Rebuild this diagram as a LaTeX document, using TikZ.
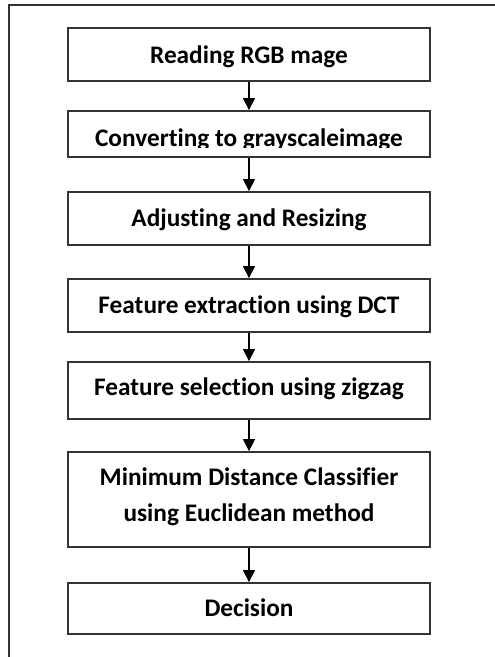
\documentclass[tikz,border=0pt]{standalone}
\usepackage{fontspec}
\setmainfont{Carlito}[Ligatures=CommonOff]
\usetikzlibrary{arrows.meta}
\begin{document}
\begin{tikzpicture}[x=1pt,y=-1pt,
  stepbox/.style={draw=black!80, line width=1.8pt, minimum width=362pt, inner sep=0pt},
  lbl/.style={font=\fontsize{25.3}{36.7}\selectfont\bfseries, inner sep=0pt, anchor=base, align=center},
  flow/.style={-{Triangle[length=12pt,width=12pt]}, line width=1.3pt}]
\useasboundingbox (0,0) rectangle (495,657);
% open frame: top and left edges only
\draw[line width=1.8pt, black!80] (9,657) -- (9,5) -- (495,5);
% process steps
\node[stepbox, minimum height=53pt] (b1) at (249,54.5) {};
\node[stepbox, minimum height=46pt] (b2) at (249,134) {};
\node[stepbox, minimum height=53pt] (b3) at (249,218.5) {};
\node[stepbox, minimum height=53pt] (b4) at (249,305.5) {};
\node[stepbox, minimum height=57pt] (b5) at (249,390.5) {};
\node[stepbox, minimum height=95pt] (b6) at (249,499.5) {};
\node[stepbox, minimum height=51pt] (b7) at (249,608.5) {};
% labels
\node[lbl] (t1) at (249,63.3) {Reading RGB mage};
\begin{scope}
  \clip (b2.north west) rectangle ([yshift=10pt]b2.south east);
  \node[lbl] (t2) at (249,146.5) {Converting to grayscaleimage};
\end{scope}
\node[lbl] (t3) at (249,226) {Adjusting and Resizing};
\node[lbl] (t4) at (249,313) {Feature extraction using DCT};
\node[lbl] (t5) at (249,395) {Feature selection using zigzag};
\node[lbl] (t6) at (249,521.7) {Minimum Distance Classifier\\using Euclidean method};
\node[lbl] (t7) at (249,616) {Decision};
% connectors
\draw[flow] (b1) -- (b2);
\draw[flow] (b2) -- (b3);
\draw[flow] (b3) -- (b4);
\draw[flow] (b4) -- (b5);
\draw[flow] (b5) -- (b6);
\draw[flow] (b6) -- (b7);
\end{tikzpicture}
\end{document}
